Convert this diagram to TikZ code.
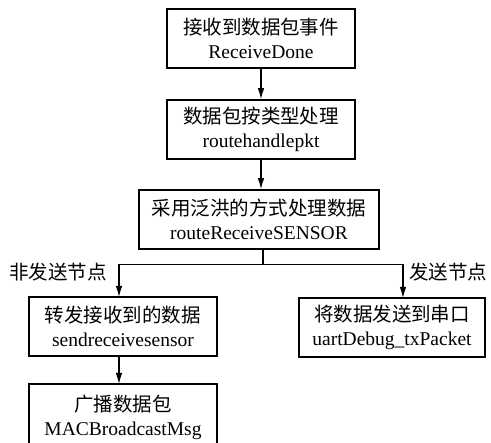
\documentclass[tikz,border=0pt]{standalone}
\usepackage{fontspec}
\setmainfont{Liberation Serif}
\newfontfamily\cjk{Noto Sans CJK SC}
\usetikzlibrary{arrows.meta}
\begin{document}
\begin{tikzpicture}[x=1pt,y=-1pt,
  stepbox/.style={draw,line width=1.6pt,minimum height=59pt,inner sep=0pt,
    align=center,font=\fontsize{19.5}{24}\selectfont},
  flow/.style={line width=1.1pt,-{Latex[length=11pt,width=6.5pt]}},
  branchlabel/.style={font=\cjk\fontsize{19.5}{22}\selectfont,inner sep=0pt}]
\useasboundingbox (0,0) rectangle (491,443);
\clip (0,0) rectangle (491,443);
\node[stepbox,minimum width=188pt] (recv) at (261,38.5) {{\cjk 接收到数据包事件}\\ReceiveDone};
\node[stepbox,minimum width=188pt] (handle) at (261,129.5) {{\cjk 数据包按类型处理}\\routehandlepkt};
\node[stepbox,minimum width=240pt] (flood) at (259,219.5) {{\cjk 采用泛洪的方式处理数据}\\routeReceiveSENSOR};
\node[stepbox,minimum width=188pt] (fwd) at (123,326.5) {{\cjk 转发接收到的数据}\\sendreceivesensor};
\node[stepbox,minimum width=186pt] (uart) at (392,327.5) {{\cjk 将数据发送到串口}\\uartDebug\_txPacket};
\node[stepbox,minimum width=188pt,minimum height=66pt] (bcast) at (123,417) {{\cjk 广播数据包}\\MACBroadcastMsg};
\coordinate (split) at (263,264.5);
\draw[flow] (recv) -- (handle);
\draw[flow] (handle) -- (handle |- flood.north);
\draw[line width=1.1pt] (flood.south -| split) -- (split);
\draw[flow] (split) -| (119,297);
\draw[flow] (split) -| (403,298);
\draw[flow] (119,356) -- (119,384);
\node[branchlabel,anchor=west] (nolabel) at (9,272) {非发送节点};
\node[branchlabel,anchor=west] (yeslabel) at (409,272) {发送节点};
\end{tikzpicture}
\end{document}
